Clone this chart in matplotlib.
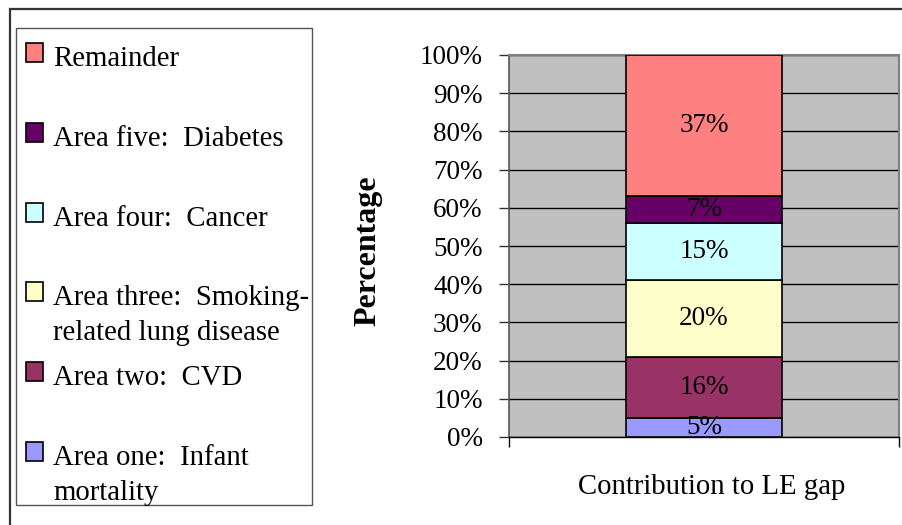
import matplotlib.pyplot as plt
from matplotlib.patches import Rectangle

plt.rcParams['font.family'] = ['Liberation Serif', 'DejaVu Serif']

# stacked segments, bottom to top
areas = ['Area one:  Infant\nmortality', 'Area two:  CVD',
         'Area three:  Smoking-\nrelated lung disease',
         'Area four:  Cancer', 'Area five:  Diabetes', 'Remainder']
shares = [5, 16, 20, 15, 7, 37]
colours = ['#9999FF', '#993366', '#FFFFCC', '#CCFFFF', '#660066', '#FF8080']
yticks = [0, 10, 20, 30, 40, 50, 60, 70, 80, 90, 100]
category = 'Contribution to LE gap'

W, H = 903, 525
fig = plt.figure(figsize=(W / 100, H / 100), dpi=100)


def fx(px):
    return px / W


def fy(py):
    return 1 - py / H


# outer chart frame (runs off the right and bottom edges)
fig.patches.append(Rectangle((fx(10), fy(540)), fx(920), fy(9) - fy(540),
                             transform=fig.transFigure, fill=False,
                             edgecolor='#333333', linewidth=1.6))

ax = fig.add_axes([fx(509), fy(437), fx(899) - fx(509), fy(55) - fy(437)])
ax.set_facecolor('#C0C0C0')

bottom = 0
for val, col in zip(shares, colours):
    ax.bar(0, val, width=0.4, bottom=bottom, color=col, edgecolor='black',
           linewidth=1.2, zorder=3)
    ax.text(0, bottom + val / 2, f'{val}%', ha='center', va='center',
            fontsize=19.5, zorder=4)
    bottom += val

ax.set_xlim(-0.5, 0.5)
ax.set_ylim(0, 100)
ax.set_yticks(yticks)
ax.set_yticklabels([f'{t}%' for t in yticks], fontsize=19.5)
ax.yaxis.grid(True, color='black', linewidth=1.0, zorder=1)
ax.set_axisbelow(True)
ax.tick_params(axis='y', direction='out', length=7, width=1, pad=12,
               color='#333333')
ax.set_xticks([-0.5, 0.5])
ax.set_xticklabels(['', ''])
ax.tick_params(axis='x', direction='out', length=7, width=1, color='black')
for side in ['top', 'right']:
    ax.spines[side].set_color('#808080')
    ax.spines[side].set_linewidth(1.5)
ax.spines['left'].set_color('#555555')
ax.spines['left'].set_linewidth(1.2)
ax.spines['bottom'].set_color('black')
ax.spines['bottom'].set_linewidth(1.0)

fig.text(fx(368), fy(251), 'Percentage', rotation=90, ha='center',
         va='center', fontsize=23, fontweight='bold')
fig.text(fx(712), fy(487), category, ha='center', va='center', fontsize=20.7)

# legend box with entries listed top-down
fig.patches.append(Rectangle((fx(16), fy(505)), fx(312) - fx(16),
                             fy(28) - fy(505), transform=fig.transFigure,
                             fill=True, facecolor='white',
                             edgecolor='#555555', linewidth=1.0))
for i, (name, col) in enumerate(zip(areas[::-1], colours[::-1])):
    top = 43 + i * 79.8
    fig.patches.append(Rectangle((fx(26), fy(top + 19)), fx(17), fy(top) - fy(top + 19),
                                 transform=fig.transFigure, facecolor=col,
                                 edgecolor='black', linewidth=1.2))
    fig.text(fx(53), fy(top + 3), name, ha='left', va='top', fontsize=20.7,
             linespacing=1.45)

fig.savefig('out.png', dpi=100)
